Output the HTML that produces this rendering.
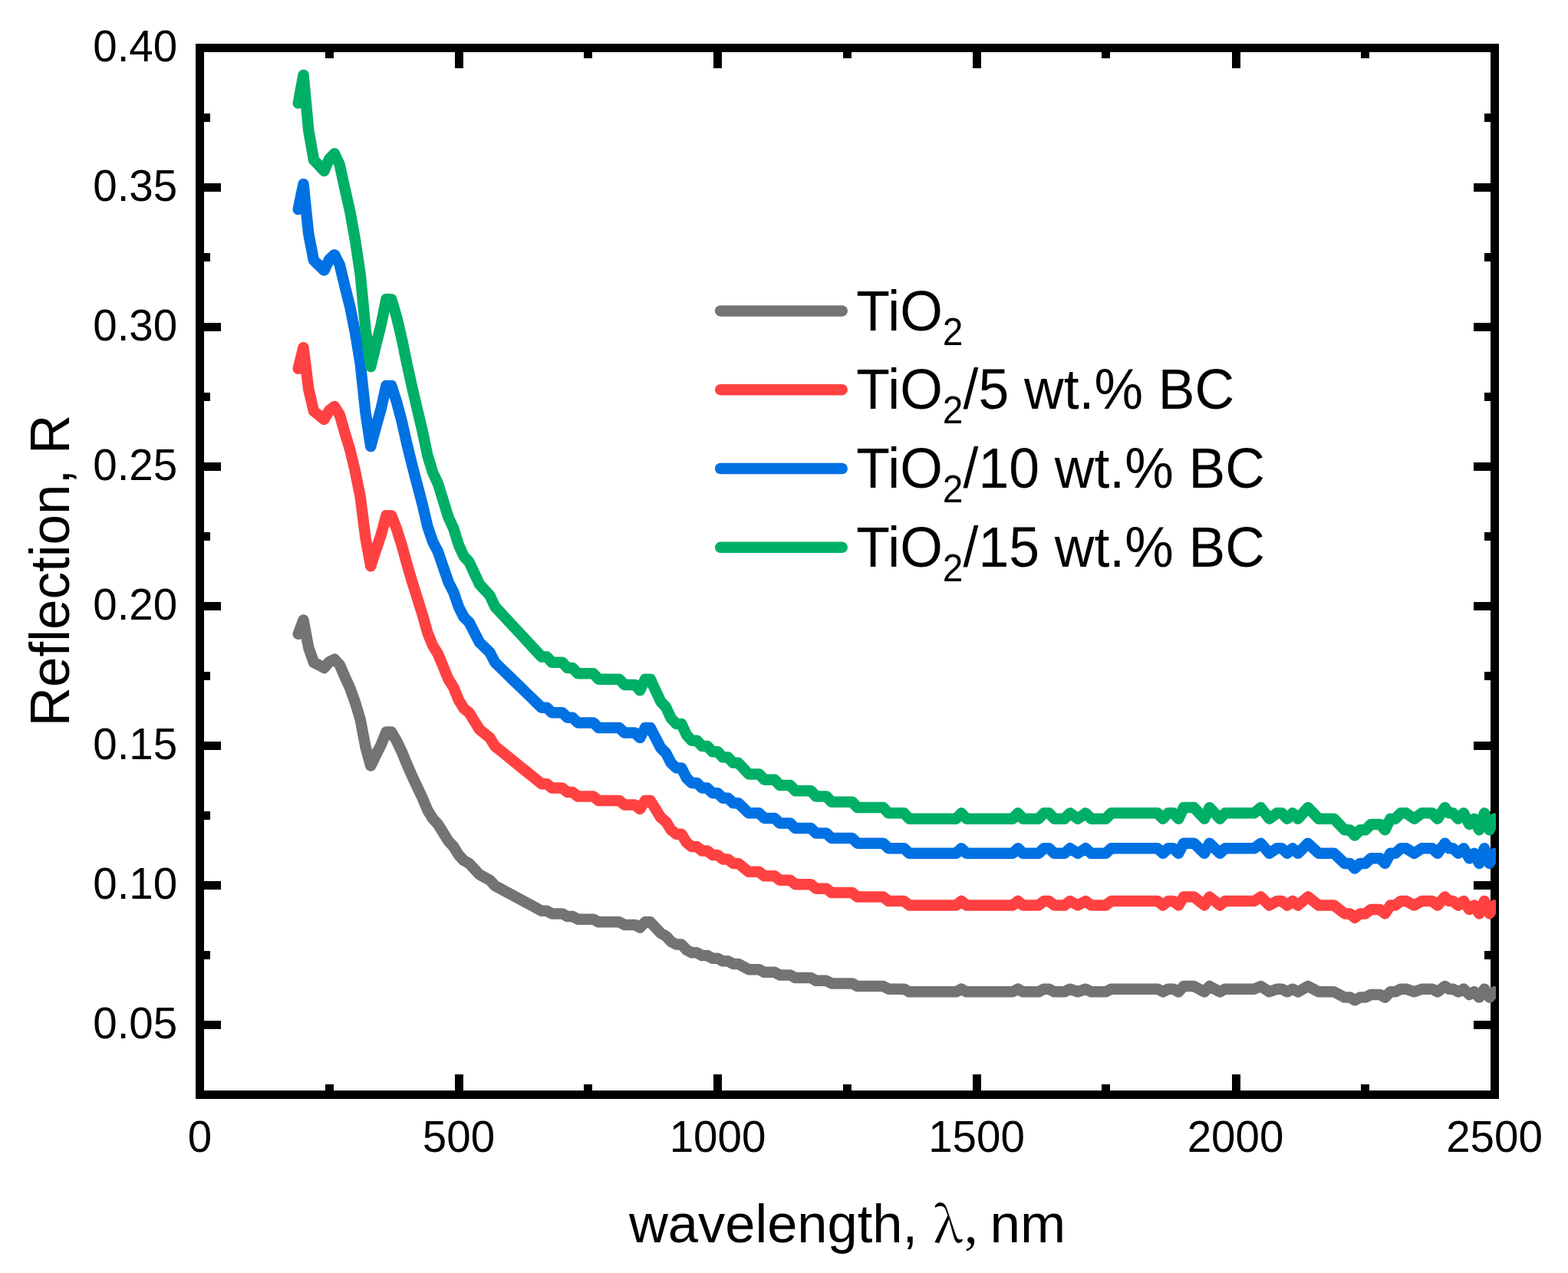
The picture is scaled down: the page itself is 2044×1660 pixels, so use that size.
<!DOCTYPE html>
<html><head><meta charset="utf-8"><title>Reflection spectra</title>
<style>html,body{margin:0;padding:0;background:#fff;}svg{display:block;}</style>
</head><body>
<svg width="2044" height="1660" viewBox="0 0 2044 1660">
<rect width="2044" height="1660" fill="#fff"/>
<path d="M429.50 1427.5V1414.0M429.50 62.5V76.0M598.50 1427.5V1401.0M598.50 62.5V89.0M766.50 1427.5V1414.0M766.50 62.5V76.0M935.50 1427.5V1401.0M935.50 62.5V89.0M1104.50 1427.5V1414.0M1104.50 62.5V76.0M1273.50 1427.5V1401.0M1273.50 62.5V89.0M1441.50 1427.5V1414.0M1441.50 62.5V76.0M1611.50 1427.5V1401.0M1611.50 62.5V89.0M1779.50 1427.5V1414.0M1779.50 62.5V76.0M260.5 1336.50H288.0M1948.5 1336.50H1921.0M260.5 1245.50H274.0M1948.5 1245.50H1935.0M260.5 1154.50H288.0M1948.5 1154.50H1921.0M260.5 1063.50H274.0M1948.5 1063.50H1935.0M260.5 972.50H288.0M1948.5 972.50H1921.0M260.5 881.50H274.0M1948.5 881.50H1935.0M260.5 790.50H288.0M1948.5 790.50H1921.0M260.5 699.50H274.0M1948.5 699.50H1935.0M260.5 608.50H288.0M1948.5 608.50H1921.0M260.5 517.50H274.0M1948.5 517.50H1935.0M260.5 426.50H288.0M1948.5 426.50H1921.0M260.5 335.50H274.0M1948.5 335.50H1935.0M260.5 244.50H288.0M1948.5 244.50H1921.0M260.5 153.50H274.0M1948.5 153.50H1935.0" stroke="#000" stroke-width="11" fill="none"/>
<rect x="260.5" y="62.5" width="1688.0" height="1365.0" fill="none" stroke="#000" stroke-width="11"/>
<g font-family='"Liberation Sans", Arial, sans-serif' font-size="56.5" fill="#000">
<text transform="translate(260.50 1501.5) scale(1 1.03)" text-anchor="middle">0</text>
<text transform="translate(598.00 1501.5) scale(1 1.03)" text-anchor="middle">500</text>
<text transform="translate(935.50 1501.5) scale(1 1.03)" text-anchor="middle">1000</text>
<text transform="translate(1273.00 1501.5) scale(1 1.03)" text-anchor="middle">1500</text>
<text transform="translate(1610.50 1501.5) scale(1 1.03)" text-anchor="middle">2000</text>
<text transform="translate(1948.00 1501.5) scale(1 1.03)" text-anchor="middle">2500</text>
<text transform="translate(231.2 1353.50) scale(1 1.03)" text-anchor="end">0.05</text>
<text transform="translate(231.2 1171.50) scale(1 1.03)" text-anchor="end">0.10</text>
<text transform="translate(231.2 989.50) scale(1 1.03)" text-anchor="end">0.15</text>
<text transform="translate(231.2 807.50) scale(1 1.03)" text-anchor="end">0.20</text>
<text transform="translate(231.2 625.50) scale(1 1.03)" text-anchor="end">0.25</text>
<text transform="translate(231.2 443.50) scale(1 1.03)" text-anchor="end">0.30</text>
<text transform="translate(231.2 261.50) scale(1 1.03)" text-anchor="end">0.35</text>
<text transform="translate(231.2 79.50) scale(1 1.03)" text-anchor="end">0.40</text>
</g>
<text x="819.9" y="1620" font-family='"Liberation Sans", Arial, sans-serif' font-size="70.5" fill="#000">wavelength,</text>
<text x="1217.1" y="1620" font-family='"Noto Serif CJK SC", "Liberation Serif", serif' font-size="65" fill="#000">λ</text>
<text x="1256.9" y="1620.2" font-family='"Liberation Serif", serif' font-size="71" fill="#000">,</text>
<text x="1290.5" y="1620" font-family='"Liberation Sans", Arial, sans-serif' font-size="71" fill="#000">nm</text>
<text transform="translate(90.3 744) rotate(-90) scale(1 1.02)" text-anchor="middle" font-family='"Liberation Sans", Arial, sans-serif' font-size="71" fill="#000">Reflection, R</text>
<defs><clipPath id="pc"><rect x="0" y="0" width="1950" height="1660"/></clipPath></defs>
<path clip-path="url(#pc)" d="M388.75 826.80L395.50 808.50L402.25 844.50L409.00 863.75L415.75 867.25L422.50 870.95L429.25 863.10L436.00 859.65L442.75 866.90L449.50 882.50L456.25 897.25L463.00 916.00L469.75 938.50L476.50 974.00L483.25 998.50L490.00 984.50L496.75 971.25L503.50 954.50L510.25 954.60L517.00 966.15L523.75 980.35L530.50 996.80L537.25 1012.10L544.00 1026.40L550.75 1040.75L557.50 1056.72L564.25 1067.64L571.00 1074.92L577.75 1085.84L584.50 1096.76L591.25 1104.04L598.00 1114.96L604.75 1122.24L611.50 1125.88L618.25 1133.16L625.00 1140.44L631.75 1144.08L638.50 1147.72L645.25 1155.00L652.00 1158.64L658.75 1162.28L665.50 1165.92L672.25 1169.56L679.00 1173.20L685.75 1176.84L692.50 1180.48L699.25 1184.12L706.00 1187.76L712.75 1187.76L719.50 1191.40L726.25 1191.40L733.00 1191.40L739.75 1195.04L746.50 1195.04L753.25 1198.68L760.00 1198.68L766.75 1198.68L773.50 1198.68L780.25 1202.32L787.00 1202.32L793.75 1202.32L800.50 1202.32L807.25 1202.32L814.00 1205.96L820.75 1205.96L827.50 1205.96L834.25 1209.60L841.00 1202.32L847.75 1202.32L854.50 1209.60L861.25 1216.88L868.00 1220.52L874.75 1227.80L881.50 1231.44L888.25 1231.44L895.00 1238.72L901.75 1242.36L908.50 1242.36L915.25 1246.00L922.00 1246.00L928.75 1249.64L935.50 1249.64L942.25 1253.28L949.00 1253.28L955.75 1256.92L962.50 1256.92L969.25 1260.56L976.00 1264.20L982.75 1264.20L989.50 1264.20L996.25 1267.84L1003.00 1267.84L1009.75 1267.84L1016.50 1271.48L1023.25 1271.48L1030.00 1271.48L1036.75 1275.12L1043.50 1275.12L1050.25 1275.12L1057.00 1275.12L1063.75 1278.76L1070.50 1278.76L1077.25 1278.76L1084.00 1282.40L1090.75 1282.40L1097.50 1282.40L1104.25 1282.40L1111.00 1282.40L1117.75 1286.04L1124.50 1286.04L1131.25 1286.04L1138.00 1286.04L1144.75 1286.04L1151.50 1286.04L1158.25 1289.68L1165.00 1289.68L1171.75 1289.68L1178.50 1289.68L1185.25 1293.32L1246.50 1293.32L1253.20 1289.68L1260.00 1293.32L1320.00 1293.32L1327.00 1289.68L1333.50 1293.32L1354.00 1293.32L1360.75 1289.68L1367.50 1289.68L1374.25 1293.32L1387.75 1293.32L1394.85 1289.68L1405.00 1293.32L1415.15 1289.68L1422.40 1293.32L1441.50 1293.32L1448.50 1289.68L1509.00 1289.68L1516.00 1293.32L1522.75 1289.68L1529.50 1289.68L1536.25 1293.32L1543.00 1286.04L1556.50 1286.04L1570.00 1293.32L1576.75 1286.04L1590.25 1293.32L1597.00 1289.68L1635.00 1289.68L1643.50 1286.04L1654.70 1293.32L1664.50 1289.68L1671.00 1289.68L1678.00 1293.32L1685.00 1289.68L1692.00 1293.32L1705.00 1286.04L1719.00 1293.32L1739.00 1293.32L1752.80 1300.60L1759.80 1300.60L1766.00 1304.24L1773.00 1300.60L1780.00 1300.60L1787.00 1296.96L1799.00 1296.96L1805.50 1300.60L1812.50 1293.32L1819.00 1293.32L1826.00 1289.68L1833.00 1289.68L1843.60 1293.32L1853.50 1289.68L1867.00 1289.68L1874.00 1293.32L1883.50 1286.04L1889.00 1289.68L1894.00 1289.68L1901.00 1293.32L1908.00 1289.68L1915.30 1296.96L1921.80 1293.32L1928.20 1300.60L1935.00 1289.68L1941.60 1300.60L1948.00 1293.32" fill="none" stroke="#737373" stroke-width="14.5" stroke-linejoin="round" stroke-linecap="round"/>
<path clip-path="url(#pc)" d="M388.75 480.70L395.50 453.25L402.25 507.25L409.00 536.12L415.75 541.38L422.50 546.93L429.25 535.15L436.00 529.97L442.75 540.85L449.50 564.25L456.25 586.38L463.00 614.50L469.75 648.25L476.50 701.50L483.25 738.25L490.00 717.25L496.75 697.38L503.50 672.25L510.25 672.40L517.00 689.72L523.75 711.02L530.50 735.70L537.25 758.65L544.00 780.10L550.75 801.62L557.50 825.58L564.25 841.96L571.00 852.88L577.75 869.26L584.50 885.64L591.25 896.56L598.00 912.94L604.75 923.86L611.50 929.32L618.25 940.24L625.00 951.16L631.75 956.62L638.50 962.08L645.25 973.00L652.00 978.46L658.75 983.92L665.50 989.38L672.25 994.84L679.00 1000.30L685.75 1005.76L692.50 1011.22L699.25 1016.68L706.00 1022.14L712.75 1022.14L719.50 1027.60L726.25 1027.60L733.00 1027.60L739.75 1033.06L746.50 1033.06L753.25 1038.52L760.00 1038.52L766.75 1038.52L773.50 1038.52L780.25 1043.98L787.00 1043.98L793.75 1043.98L800.50 1043.98L807.25 1043.98L814.00 1049.44L820.75 1049.44L827.50 1049.44L834.25 1054.90L841.00 1043.98L847.75 1043.98L854.50 1054.90L861.25 1065.82L868.00 1071.28L874.75 1082.20L881.50 1087.66L888.25 1087.66L895.00 1098.58L901.75 1104.04L908.50 1104.04L915.25 1109.50L922.00 1109.50L928.75 1114.96L935.50 1114.96L942.25 1120.42L949.00 1120.42L955.75 1125.88L962.50 1125.88L969.25 1131.34L976.00 1136.80L982.75 1136.80L989.50 1136.80L996.25 1142.26L1003.00 1142.26L1009.75 1142.26L1016.50 1147.72L1023.25 1147.72L1030.00 1147.72L1036.75 1153.18L1043.50 1153.18L1050.25 1153.18L1057.00 1153.18L1063.75 1158.64L1070.50 1158.64L1077.25 1158.64L1084.00 1164.10L1090.75 1164.10L1097.50 1164.10L1104.25 1164.10L1111.00 1164.10L1117.75 1169.56L1124.50 1169.56L1131.25 1169.56L1138.00 1169.56L1144.75 1169.56L1151.50 1169.56L1158.25 1175.02L1165.00 1175.02L1171.75 1175.02L1178.50 1175.02L1185.25 1180.48L1246.50 1180.48L1253.20 1175.02L1260.00 1180.48L1320.00 1180.48L1327.00 1175.02L1333.50 1180.48L1354.00 1180.48L1360.75 1175.02L1367.50 1175.02L1374.25 1180.48L1387.75 1180.48L1394.85 1175.02L1405.00 1180.48L1415.15 1175.02L1422.40 1180.48L1441.50 1180.48L1448.50 1175.02L1509.00 1175.02L1516.00 1180.48L1522.75 1175.02L1529.50 1175.02L1536.25 1180.48L1543.00 1169.56L1556.50 1169.56L1570.00 1180.48L1576.75 1169.56L1590.25 1180.48L1597.00 1175.02L1635.00 1175.02L1643.50 1169.56L1654.70 1180.48L1664.50 1175.02L1671.00 1175.02L1678.00 1180.48L1685.00 1175.02L1692.00 1180.48L1705.00 1169.56L1719.00 1180.48L1739.00 1180.48L1752.80 1191.40L1759.80 1191.40L1766.00 1196.86L1773.00 1191.40L1780.00 1191.40L1787.00 1185.94L1799.00 1185.94L1805.50 1191.40L1812.50 1180.48L1819.00 1180.48L1826.00 1175.02L1833.00 1175.02L1843.60 1180.48L1853.50 1175.02L1867.00 1175.02L1874.00 1180.48L1883.50 1169.56L1889.00 1175.02L1894.00 1175.02L1901.00 1180.48L1908.00 1175.02L1915.30 1185.94L1921.80 1180.48L1928.20 1191.40L1935.00 1175.02L1941.60 1191.40L1948.00 1180.48" fill="none" stroke="#ff4141" stroke-width="14.5" stroke-linejoin="round" stroke-linecap="round"/>
<path clip-path="url(#pc)" d="M388.75 273.04L395.50 240.10L402.25 304.90L409.00 339.55L415.75 345.85L422.50 352.51L429.25 338.38L436.00 332.17L442.75 345.22L449.50 373.30L456.25 399.85L463.00 433.60L469.75 474.10L476.50 538.00L483.25 582.10L490.00 556.90L496.75 533.05L503.50 502.90L510.25 503.08L517.00 523.87L523.75 549.43L530.50 579.04L537.25 606.58L544.00 632.32L550.75 658.15L557.50 686.90L564.25 706.55L571.00 719.66L577.75 739.31L584.50 758.97L591.25 772.07L598.00 791.73L604.75 804.83L611.50 811.38L618.25 824.49L625.00 837.59L631.75 844.14L638.50 850.70L645.25 863.80L652.00 870.35L658.75 876.90L665.50 883.46L672.25 890.01L679.00 896.56L685.75 903.11L692.50 909.66L699.25 916.22L706.00 922.77L712.75 922.77L719.50 929.32L726.25 929.32L733.00 929.32L739.75 935.87L746.50 935.87L753.25 942.42L760.00 942.42L766.75 942.42L773.50 942.42L780.25 948.98L787.00 948.98L793.75 948.98L800.50 948.98L807.25 948.98L814.00 955.53L820.75 955.53L827.50 955.53L834.25 962.08L841.00 948.98L847.75 948.98L854.50 962.08L861.25 975.18L868.00 981.74L874.75 994.84L881.50 1001.39L888.25 1001.39L895.00 1014.50L901.75 1021.05L908.50 1021.05L915.25 1027.60L922.00 1027.60L928.75 1034.15L935.50 1034.15L942.25 1040.70L949.00 1040.70L955.75 1047.26L962.50 1047.26L969.25 1053.81L976.00 1060.36L982.75 1060.36L989.50 1060.36L996.25 1066.91L1003.00 1066.91L1009.75 1066.91L1016.50 1073.46L1023.25 1073.46L1030.00 1073.46L1036.75 1080.02L1043.50 1080.02L1050.25 1080.02L1057.00 1080.02L1063.75 1086.57L1070.50 1086.57L1077.25 1086.57L1084.00 1093.12L1090.75 1093.12L1097.50 1093.12L1104.25 1093.12L1111.00 1093.12L1117.75 1099.67L1124.50 1099.67L1131.25 1099.67L1138.00 1099.67L1144.75 1099.67L1151.50 1099.67L1158.25 1106.22L1165.00 1106.22L1171.75 1106.22L1178.50 1106.22L1185.25 1112.78L1246.50 1112.78L1253.20 1106.22L1260.00 1112.78L1320.00 1112.78L1327.00 1106.22L1333.50 1112.78L1354.00 1112.78L1360.75 1106.22L1367.50 1106.22L1374.25 1112.78L1387.75 1112.78L1394.85 1106.22L1405.00 1112.78L1415.15 1106.22L1422.40 1112.78L1441.50 1112.78L1448.50 1106.22L1509.00 1106.22L1516.00 1112.78L1522.75 1106.22L1529.50 1106.22L1536.25 1112.78L1543.00 1099.67L1556.50 1099.67L1570.00 1112.78L1576.75 1099.67L1590.25 1112.78L1597.00 1106.22L1635.00 1106.22L1643.50 1099.67L1654.70 1112.78L1664.50 1106.22L1671.00 1106.22L1678.00 1112.78L1685.00 1106.22L1692.00 1112.78L1705.00 1099.67L1719.00 1112.78L1739.00 1112.78L1752.80 1125.88L1759.80 1125.88L1766.00 1132.43L1773.00 1125.88L1780.00 1125.88L1787.00 1119.33L1799.00 1119.33L1805.50 1125.88L1812.50 1112.78L1819.00 1112.78L1826.00 1106.22L1833.00 1106.22L1843.60 1112.78L1853.50 1106.22L1867.00 1106.22L1874.00 1112.78L1883.50 1099.67L1889.00 1106.22L1894.00 1106.22L1901.00 1112.78L1908.00 1106.22L1915.30 1119.33L1921.80 1112.78L1928.20 1125.88L1935.00 1106.22L1941.60 1125.88L1948.00 1112.78" fill="none" stroke="#0071e3" stroke-width="14.5" stroke-linejoin="round" stroke-linecap="round"/>
<path clip-path="url(#pc)" d="M388.75 134.60L395.50 98.00L402.25 170.00L409.00 208.50L415.75 215.50L422.50 222.90L429.25 207.20L436.00 200.30L442.75 214.80L449.50 246.00L456.25 275.50L463.00 313.00L469.75 358.00L476.50 429.00L483.25 478.00L490.00 450.00L496.75 423.50L503.50 390.00L510.25 390.20L517.00 413.30L523.75 441.70L530.50 474.60L537.25 505.20L544.00 533.80L550.75 562.50L557.50 594.44L564.25 616.28L571.00 630.84L577.75 652.68L584.50 674.52L591.25 689.08L598.00 710.92L604.75 725.48L611.50 732.76L618.25 747.32L625.00 761.88L631.75 769.16L638.50 776.44L645.25 791.00L652.00 798.28L658.75 805.56L665.50 812.84L672.25 820.12L679.00 827.40L685.75 834.68L692.50 841.96L699.25 849.24L706.00 856.52L712.75 856.52L719.50 863.80L726.25 863.80L733.00 863.80L739.75 871.08L746.50 871.08L753.25 878.36L760.00 878.36L766.75 878.36L773.50 878.36L780.25 885.64L787.00 885.64L793.75 885.64L800.50 885.64L807.25 885.64L814.00 892.92L820.75 892.92L827.50 892.92L834.25 900.20L841.00 885.64L847.75 885.64L854.50 900.20L861.25 914.76L868.00 922.04L874.75 936.60L881.50 943.88L888.25 943.88L895.00 958.44L901.75 965.72L908.50 965.72L915.25 973.00L922.00 973.00L928.75 980.28L935.50 980.28L942.25 987.56L949.00 987.56L955.75 994.84L962.50 994.84L969.25 1002.12L976.00 1009.40L982.75 1009.40L989.50 1009.40L996.25 1016.68L1003.00 1016.68L1009.75 1016.68L1016.50 1023.96L1023.25 1023.96L1030.00 1023.96L1036.75 1031.24L1043.50 1031.24L1050.25 1031.24L1057.00 1031.24L1063.75 1038.52L1070.50 1038.52L1077.25 1038.52L1084.00 1045.80L1090.75 1045.80L1097.50 1045.80L1104.25 1045.80L1111.00 1045.80L1117.75 1053.08L1124.50 1053.08L1131.25 1053.08L1138.00 1053.08L1144.75 1053.08L1151.50 1053.08L1158.25 1060.36L1165.00 1060.36L1171.75 1060.36L1178.50 1060.36L1185.25 1067.64L1246.50 1067.64L1253.20 1060.36L1260.00 1067.64L1320.00 1067.64L1327.00 1060.36L1333.50 1067.64L1354.00 1067.64L1360.75 1060.36L1367.50 1060.36L1374.25 1067.64L1387.75 1067.64L1394.85 1060.36L1405.00 1067.64L1415.15 1060.36L1422.40 1067.64L1441.50 1067.64L1448.50 1060.36L1509.00 1060.36L1516.00 1067.64L1522.75 1060.36L1529.50 1060.36L1536.25 1067.64L1543.00 1053.08L1556.50 1053.08L1570.00 1067.64L1576.75 1053.08L1590.25 1067.64L1597.00 1060.36L1635.00 1060.36L1643.50 1053.08L1654.70 1067.64L1664.50 1060.36L1671.00 1060.36L1678.00 1067.64L1685.00 1060.36L1692.00 1067.64L1705.00 1053.08L1719.00 1067.64L1739.00 1067.64L1752.80 1082.20L1759.80 1082.20L1766.00 1089.48L1773.00 1082.20L1780.00 1082.20L1787.00 1074.92L1799.00 1074.92L1805.50 1082.20L1812.50 1067.64L1819.00 1067.64L1826.00 1060.36L1833.00 1060.36L1843.60 1067.64L1853.50 1060.36L1867.00 1060.36L1874.00 1067.64L1883.50 1053.08L1889.00 1060.36L1894.00 1060.36L1901.00 1067.64L1908.00 1060.36L1915.30 1074.92L1921.80 1067.64L1928.20 1082.20L1935.00 1060.36L1941.60 1082.20L1948.00 1067.64" fill="none" stroke="#00af66" stroke-width="14.5" stroke-linejoin="round" stroke-linecap="round"/>
<line x1="939.2" y1="405.40" x2="1097.7" y2="405.40" stroke="#737373" stroke-width="14.5" stroke-linecap="round"/>
<text transform="translate(1116.3 430.60) scale(1 1.03)" font-family='"Liberation Sans", Arial, sans-serif' font-size="71.5" fill="#000">TiO<tspan font-size="48" dy="18.5">2</tspan><tspan dy="-18.5"></tspan></text>
<line x1="939.2" y1="508.20" x2="1097.7" y2="508.20" stroke="#ff4141" stroke-width="14.5" stroke-linecap="round"/>
<text transform="translate(1116.3 533.40) scale(1 1.03)" font-family='"Liberation Sans", Arial, sans-serif' font-size="71.5" fill="#000">TiO<tspan font-size="48" dy="18.5">2</tspan><tspan dy="-18.5">/5 wt.% BC</tspan></text>
<line x1="939.2" y1="611.00" x2="1097.7" y2="611.00" stroke="#0071e3" stroke-width="14.5" stroke-linecap="round"/>
<text transform="translate(1116.3 636.20) scale(1 1.03)" font-family='"Liberation Sans", Arial, sans-serif' font-size="71.5" fill="#000">TiO<tspan font-size="48" dy="18.5">2</tspan><tspan dy="-18.5">/10 wt.% BC</tspan></text>
<line x1="939.2" y1="713.80" x2="1097.7" y2="713.80" stroke="#00af66" stroke-width="14.5" stroke-linecap="round"/>
<text transform="translate(1116.3 739.00) scale(1 1.03)" font-family='"Liberation Sans", Arial, sans-serif' font-size="71.5" fill="#000">TiO<tspan font-size="48" dy="18.5">2</tspan><tspan dy="-18.5">/15 wt.% BC</tspan></text>
</svg>
</body></html>
